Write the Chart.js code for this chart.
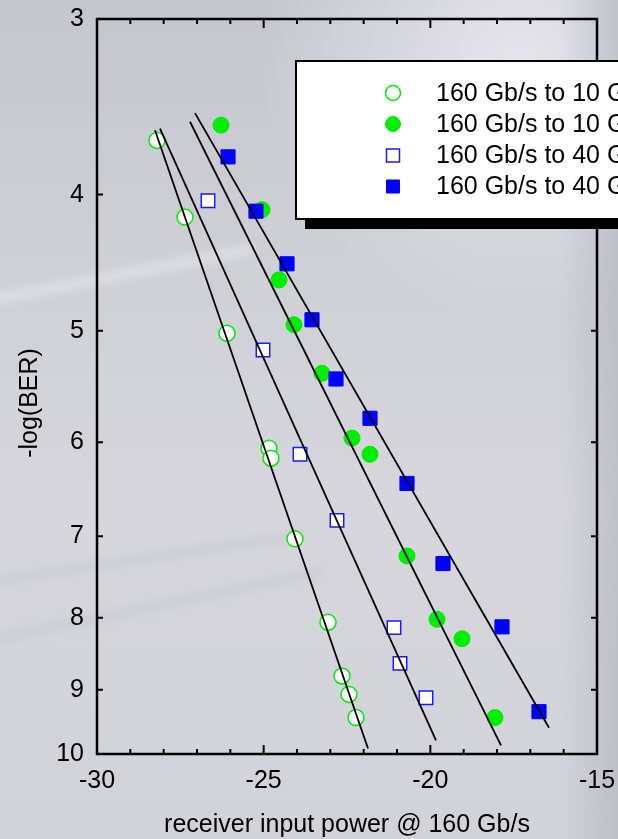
<!DOCTYPE html>
<html>
<head>
<meta charset="utf-8">
<script src="https://cdn.jsdelivr.net/npm/chart.js@4/dist/chart.umd.min.js"></script>
<style>
  html, body { margin: 0; padding: 0; background: #cfcfd6; }
  #wrap { width: 618px; height: 839px; }
</style>
</head>
<body>
<div id="wrap"><canvas id="c" width="618" height="839"></canvas></div>
<script>
// measured points, x = receiver power (dBm), y = -log(BER)
const xOpen10 = [-28.2, -27.36, -26.1, -24.84, -24.78, -24.06, -23.07, -22.65, -22.44, -22.23];
const yOpen10 = [3.66, 4.15, 5.02, 6.06, 6.16, 7.03, 8.06, 8.80, 9.07, 9.42];

const xFill10 = [-26.28, -25.05, -24.54, -24.09, -23.25, -22.35, -21.81, -20.7, -19.8, -19.05, -18.06];
const yFill10 = [3.57, 4.10, 4.60, 4.95, 5.36, 5.96, 6.12, 7.23, 8.02, 8.28, 9.42];

const xOpen40 = [-26.67, -25.02, -23.91, -22.8, -21.09, -20.91, -20.13];
const yOpen40 = [4.04, 5.16, 6.12, 6.82, 8.13, 8.62, 9.12];

const xFill40 = [-26.07, -25.23, -24.3, -23.55, -22.83, -21.81, -20.7, -19.62, -17.85, -16.74];
const yFill40 = [3.76, 4.11, 4.48, 4.91, 5.41, 5.77, 6.42, 7.32, 8.12, 9.33];

// fitted lines, start and end
const fitOpen10 = [[-28.26, 3.60], [-21.87, 9.91]];
const fitOpen40 = [[-28.11, 3.59], [-19.83, 9.78]];
const fitFill10 = [[-27.21, 3.55], [-17.88, 9.86]];
const fitFill40 = [[-27.06, 3.50], [-16.44, 9.58]];

const xTicks = [-30, -25, -20, -15];
const yTicks = [3, 4, 5, 6, 7, 8, 9, 10];

const legendLabels = [
  '160 Gb/s to 10 Gb/s',
  '160 Gb/s to 10 Gb/s',
  '160 Gb/s to 40 Gb/s',
  '160 Gb/s to 40 Gb/s'
];

const FONT = '"Liberation Sans", Arial, sans-serif';

function pts(xs, ys) {
  return xs.map((x, i) => ({ x: x, y: ys[i] }));
}
function fit(a) {
  return a.map(p => ({ x: p[0], y: p[1] }));
}

function lineSet(d) {
  return {
    data: fit(d), showLine: true, borderColor: '#000', borderWidth: 1.8,
    pointRadius: 0, pointHoverRadius: 0, fill: false, order: 0
  };
}

const markerSets = [
  { data: pts(xOpen10, yOpen10), pointStyle: 'circle', pointRadius: 8,
    backgroundColor: '#ffffff', borderColor: '#00ee00', borderWidth: 1.5, order: 2 },
  { data: pts(xFill10, yFill10), pointStyle: 'circle', pointRadius: 8,
    backgroundColor: '#00ee00', borderColor: '#00ee00', borderWidth: 1, order: 2 },
  { data: pts(xOpen40, yOpen40), pointStyle: 'rect', pointRadius: 9.5,
    backgroundColor: '#ffffff', borderColor: '#1a1aff', borderWidth: 1.5, order: 1 },
  { data: pts(xFill40, yFill40), pointStyle: 'rect', pointRadius: 10,
    backgroundColor: '#0000ff', borderColor: '#0000ff', borderWidth: 1, order: 1 }
];

const bgPlugin = {
  id: 'bg',
  beforeDraw(chart) {
    const ctx = chart.ctx;
    const W = chart.width, H = chart.height;
    ctx.save();
    let g = ctx.createLinearGradient(0, 0, 0, H);
    g.addColorStop(0, '#c6c6ce');
    g.addColorStop(0.35, '#d0d0d7');
    g.addColorStop(0.6, '#d6d6dc');
    g.addColorStop(1, '#d2d2d9');
    ctx.fillStyle = g;
    ctx.fillRect(0, 0, W, H);
    // lighter top right
    let r = ctx.createRadialGradient(520, 60, 10, 520, 60, 260);
    r.addColorStop(0, 'rgba(235,235,240,0.8)');
    r.addColorStop(1, 'rgba(235,235,240,0)');
    ctx.fillStyle = r;
    ctx.fillRect(0, 0, W, H);
    // darker right edge
    let e = ctx.createLinearGradient(560, 0, 618, 0);
    e.addColorStop(0, 'rgba(160,160,172,0)');
    e.addColorStop(1, 'rgba(160,160,172,0.4)');
    ctx.fillStyle = e;
    ctx.fillRect(560, 0, 58, H);
    // faint streaks
    ctx.lineCap = 'round';
    ctx.filter = 'blur(4px)';
    ctx.strokeStyle = 'rgba(240,240,245,0.45)';
    ctx.lineWidth = 10;
    ctx.beginPath(); ctx.moveTo(-10, 300); ctx.lineTo(250, 250); ctx.stroke();
    ctx.strokeStyle = 'rgba(180,180,195,0.25)';
    ctx.lineWidth = 8;
    ctx.beginPath(); ctx.moveTo(-10, 582); ctx.lineTo(300, 535); ctx.stroke();
    ctx.beginPath(); ctx.moveTo(-10, 640); ctx.lineTo(320, 572); ctx.stroke();
    ctx.restore();
  }
};

const framePlugin = {
  id: 'frame',
  afterDatasetsDraw(chart) {
    const ctx = chart.ctx;
    const a = chart.chartArea;
    const xs = chart.scales.x, ys = chart.scales.y;
    ctx.save();
    ctx.strokeStyle = '#000';
    ctx.lineWidth = 2.5;
    ctx.strokeRect(a.left, a.top, a.right - a.left, a.bottom - a.top);
    ctx.lineWidth = 2;
    ctx.beginPath();
    for (let v = -29; v < -15; v++) {
      const px = xs.getPixelForValue(v);
      const len = (v % 5 === 0) ? 9 : 5;
      ctx.moveTo(px, a.bottom); ctx.lineTo(px, a.bottom - len);
      ctx.moveTo(px, a.top); ctx.lineTo(px, a.top + len);
    }
    yTicks.forEach(v => {
      const py = ys.getPixelForValue(v);
      ctx.moveTo(a.left, py); ctx.lineTo(a.left + 6, py);
      ctx.moveTo(a.right, py); ctx.lineTo(a.right - 6, py);
    });
    ctx.stroke();

    // tick labels
    ctx.fillStyle = '#000';
    ctx.font = '25px ' + FONT;
    ctx.textAlign = 'center';
    ctx.textBaseline = 'middle';
    xTicks.forEach(v => ctx.fillText(String(v), xs.getPixelForValue(v), a.bottom + 27));
    ctx.textAlign = 'right';
    yTicks.forEach(v => ctx.fillText(String(v), a.left - 13, ys.getPixelForValue(v)));

    // axis titles
    ctx.textAlign = 'center';
    ctx.fillText('receiver input power @ 160 Gb/s', (a.left + a.right) / 2, 825);
    ctx.translate(30, 403);
    ctx.rotate(-Math.PI / 2);
    ctx.fillText('-log(BER)', 0, 0);
    ctx.restore();
  },
  afterDraw(chart) {
    // legend box with shadow, running off the right edge
    const ctx = chart.ctx;
    ctx.save();
    ctx.fillStyle = '#000';
    ctx.fillRect(305, 70, 400, 159);
    ctx.fillStyle = '#fff';
    ctx.fillRect(296, 61, 400, 158);
    ctx.strokeStyle = '#000';
    ctx.lineWidth = 2;
    ctx.strokeRect(296, 61, 400, 158);
    const rows = [93, 124, 155.5, 186.5];
    ctx.font = '25px ' + FONT;
    ctx.textAlign = 'left';
    ctx.textBaseline = 'middle';
    markerSets.forEach((ds, i) => {
      const x = 393, y = rows[i];
      ctx.fillStyle = ds.backgroundColor;
      ctx.strokeStyle = ds.borderColor;
      ctx.lineWidth = ds.borderWidth;
      ctx.beginPath();
      if (ds.pointStyle === 'circle') {
        ctx.arc(x, y, 7.5, 0, Math.PI * 2);
      } else {
        ctx.rect(x - 6.5, y - 6.5, 13, 13);
      }
      ctx.fill();
      ctx.stroke();
      ctx.fillStyle = '#000';
      ctx.fillText(legendLabels[i], 436, y + 1);
    });
    ctx.restore();
  }
};

new Chart(document.getElementById('c'), {
  type: 'scatter',
  data: {
    datasets: [
      lineSet(fitOpen10), lineSet(fitOpen40), lineSet(fitFill10), lineSet(fitFill40)
    ].concat(markerSets)
  },
  options: {
    responsive: false,
    animation: false,
    events: [],
    layout: { padding: { top: 19, right: 21, left: 0, bottom: 0 } },
    plugins: { legend: { display: false }, tooltip: { enabled: false } },
    scales: {
      x: {
        type: 'linear', min: -30, max: -15,
        afterBuildTicks: s => { s.ticks = xTicks.map(v => ({ value: v })); },
        afterFit: s => { s.height = 85; },
        grid: { display: false }, border: { display: false },
        ticks: { display: false }
      },
      y: {
        type: 'logarithmic', min: 3, max: 10, reverse: true,
        afterBuildTicks: s => { s.ticks = yTicks.map(v => ({ value: v })); },
        afterFit: s => { s.width = 97; },
        grid: { display: false }, border: { display: false },
        ticks: { display: false }
      }
    }
  },
  plugins: [bgPlugin, framePlugin]
});
</script>
</body>
</html>
